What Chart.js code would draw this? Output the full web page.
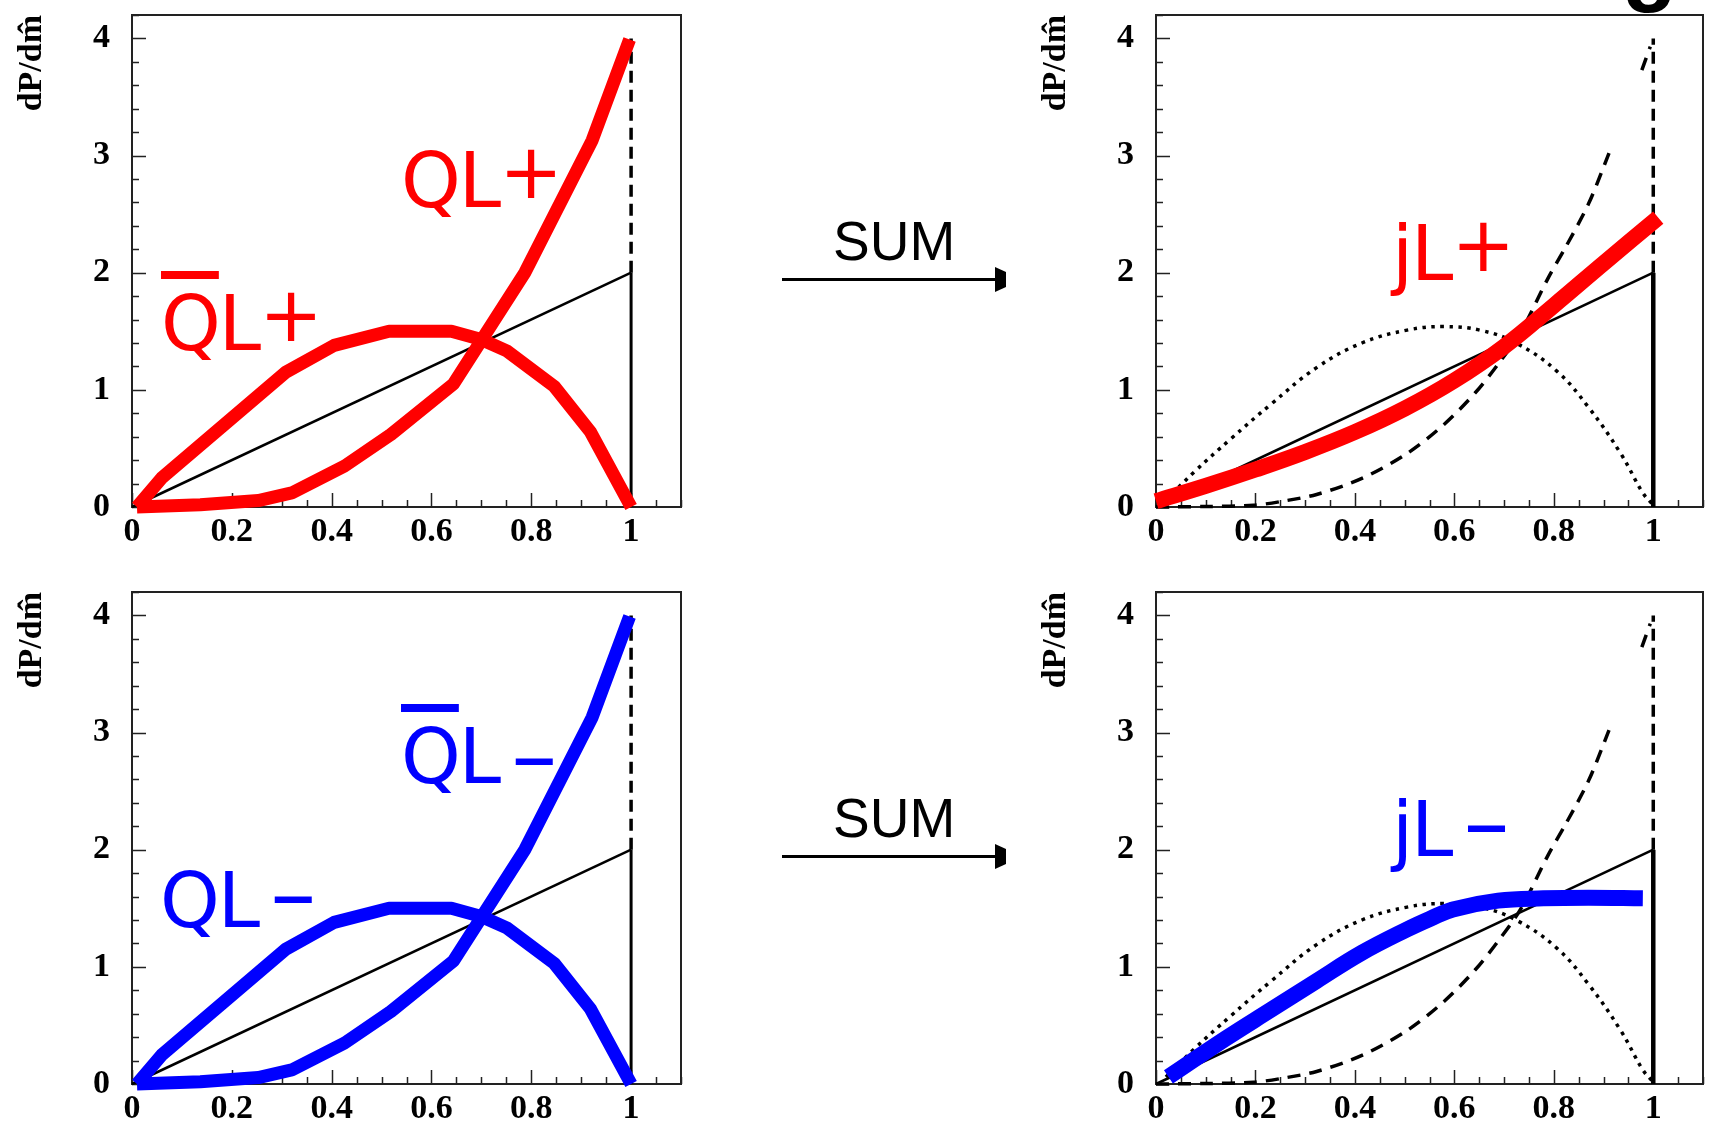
<!DOCTYPE html>
<html>
<head>
<meta charset="utf-8">
<script src="https://cdn.jsdelivr.net/npm/chart.js@4.4.1/dist/chart.umd.min.js"></script>
<style>
  html, body { margin: 0; padding: 0; background: #fff; }
  #page { position: relative; width: 1710px; height: 1131px; overflow: hidden; background: #fff; }
  canvas.panel { position: absolute; }
  .hand { position: absolute; font-family: 'DejaVu Sans', sans-serif; font-size: 76px; line-height: 1; white-space: nowrap; letter-spacing: -2px; }
  .hand .up { position: relative; top: -9px; }
  .hand .dash { position: relative; font-size: 92px; line-height: 0; margin-left: 12px; }
  .hand .bar { text-decoration: overline; text-decoration-thickness: 8px; }
  .red { color: #ff0000; }
  .blue { color: #0000ff; }
  .sum { position: absolute; font-family: 'Liberation Sans', Arial, sans-serif; font-size: 55px; line-height: 1; color: #000; }
  svg.arrow { position: absolute; left: 0; top: 0; }
  .cut { position: absolute; font-family: 'Liberation Sans', Arial, sans-serif; font-weight: bold; font-size: 90px; line-height: 1; color: #000; }
</style>
</head>
<body>
<div id="page">
  <canvas id="pPlusQuarks" class="panel" style="left:0px;top:0px" width="700" height="560"></canvas>
  <canvas id="pPlusJet" class="panel" style="left:1024px;top:0px" width="686" height="560"></canvas>
  <canvas id="pMinusQuarks" class="panel" style="left:0px;top:577px" width="700" height="560"></canvas>
  <canvas id="pMinusJet" class="panel" style="left:1024px;top:577px" width="686" height="560"></canvas>

  <div class="cut" style="left:1622px;top:-82px">g</div>

  <div class="sum" style="left:833px;top:214px">SUM</div>
  <div class="sum" style="left:833px;top:791px">SUM</div>
  <svg class="arrow" width="1710" height="1131">
    <line x1="782" y1="279.5" x2="997" y2="279.5" stroke="#000" stroke-width="3"/>
    <polygon points="995,267 1006,272 1006,287 995,292" fill="#000"/>
    <line x1="782" y1="856.5" x2="997" y2="856.5" stroke="#000" stroke-width="3"/>
    <polygon points="995,844 1006,849 1006,864 995,869" fill="#000"/>
  </svg>

  <div class="hand red" style="left:401px;top:143px">QL<span class="up">+</span></div>
  <div class="hand red" style="left:161px;top:286px"><span class="bar">Q</span>L<span class="up">+</span></div>
  <div class="hand blue" style="left:401px;top:719px"><span class="bar">Q</span>L<span class="dash" style="top:4px">–</span></div>
  <div class="hand blue" style="left:160px;top:863px">QL<span class="dash" style="top:-2px">–</span></div>
  <div class="hand red" style="left:1392px;top:216px">jL<span class="up">+</span></div>
  <div class="hand blue" style="left:1392px;top:792px">jL<span class="dash" style="top:-2px">–</span></div>
</div>

<script>
// ---- axis ticks ----
const xTickValues = [0, 0.2, 0.4, 0.6, 0.8, 1];
const xTickLabels = ['0', '0.2', '0.4', '0.6', '0.8', '1'];
const yTickValues = [0, 1, 2, 3, 4];
const yTickLabels = ['0', '1', '2', '3', '4'];
const yTitle = 'dP/dm\u0302';

// ---- flat reference distribution 2m and its edge at m = 1 ----
const flatX = [0, 1];
const flatY = [0, 2];
const edgeX = [1, 1];
const edgeLowY = [0, 2];
const edgeHighY = [2, 4];

// ---- left column: rising and humped quark shapes ----
const riseX = [0.01, 0.137, 0.253, 0.32, 0.426, 0.519, 0.644, 0.787, 0.922, 0.997];
const riseY = [0.0, 0.02, 0.055, 0.12, 0.35, 0.62, 1.05, 2.0, 3.13, 3.99];
const humpX = [0.01, 0.06, 0.308, 0.405, 0.515, 0.64, 0.70, 0.752, 0.846, 0.918, 1.0];
const humpY = [0.0, 0.25, 1.15, 1.38, 1.50, 1.50, 1.43, 1.33, 1.03, 0.645, 0.0];

// ---- right column: components (dotted hump, dashed rise) and the sums ----
const dotX = [0.02, 0.077, 0.15, 0.232, 0.323, 0.414, 0.505, 0.578, 0.651, 0.724, 0.806, 0.87, 0.934, 0.979, 0.997];
const dotY = [0.06, 0.30, 0.58, 0.88, 1.19, 1.40, 1.51, 1.54, 1.51, 1.40, 1.16, 0.85, 0.46, 0.12, 0.03];
const dashX = [0, 0.1, 0.196, 0.25, 0.323, 0.414, 0.505, 0.578, 0.642, 0.688, 0.733, 0.788, 0.824, 0.87, 0.911, 0.94, 0.977, 0.994];
const dashY = [0, 0.004, 0.015, 0.046, 0.107, 0.244, 0.457, 0.70, 0.975, 1.22, 1.49, 1.95, 2.22, 2.59, 3.02, null, 3.73, 3.93];
const jetPlusX = [0, 0.1, 0.2, 0.3, 0.4, 0.5, 0.6, 0.7, 0.8, 0.9, 1.01];
const jetPlusY = [0.05, 0.18, 0.32, 0.47, 0.64, 0.84, 1.08, 1.37, 1.72, 2.08, 2.47];
const jetMinusX = [0.025, 0.141, 0.232, 0.323, 0.414, 0.505, 0.551, 0.597, 0.688, 0.779, 0.87, 0.979];
const jetMinusY = [0.06, 0.39, 0.635, 0.88, 1.12, 1.32, 1.41, 1.49, 1.565, 1.585, 1.59, 1.585];

const RED = '#ff0000';
const BLUE = '#0000ff';

function pts(xs, ys) {
  return xs.map((x, i) => ({ x: x, y: ys[i] }));
}

// frame and inward ticks, placed with the chart's own scales
const frameTicks = {
  id: 'frameTicks',
  beforeDatasetsDraw(chart) {
    const { ctx, chartArea: a, scales: { x, y } } = chart;
    ctx.save();
    ctx.strokeStyle = '#222';
    ctx.lineWidth = 2;
    ctx.strokeRect(a.left, a.top, a.right - a.left, a.bottom - a.top);
    ctx.lineWidth = 1.5;
    ctx.beginPath();
    for (let i = 0; i <= 22; i++) {
      const px = Math.round(x.getPixelForValue(i * 0.05)) + 0.5;
      const len = i % 4 === 0 ? 14 : 7;
      ctx.moveTo(px, a.bottom);
      ctx.lineTo(px, a.bottom - len);
    }
    for (let j = 0; j <= 21; j++) {
      const py = Math.round(y.getPixelForValue(j * 0.2)) + 0.5;
      const len = j % 5 === 0 ? 14 : 7;
      ctx.moveTo(a.left, py);
      ctx.lineTo(a.left + len, py);
    }
    ctx.stroke();
    ctx.restore();
  }
};

const tickFont = { family: "'Liberation Serif', 'Times New Roman', serif", weight: 'bold', size: 34 };
const titleFont = { family: "'Liberation Serif', 'Times New Roman', serif", weight: 'bold', size: 34 };

function scales() {
  return {
    x: {
      type: 'linear', min: 0, max: 1.1,
      grid: { display: false, drawTicks: false },
      border: { display: false },
      afterBuildTicks: s => { s.ticks = xTickValues.map(v => ({ value: v })); },
      afterFit: s => { s.height = 53; s.paddingLeft = 0; s.paddingRight = 0; },
      ticks: { autoSkip: false, maxRotation: 0, minRotation: 0, padding: 5, color: '#000', font: tickFont,
               callback: (v, i) => xTickLabels[i] }
    },
    y: {
      type: 'linear', min: 0, max: 4.2,
      grid: { display: false, drawTicks: false },
      border: { display: false },
      afterBuildTicks: s => { s.ticks = yTickValues.map(v => ({ value: v })); },
      afterFit: s => { s.width = 132; s.paddingTop = 0; s.paddingBottom = 0; },
      ticks: { autoSkip: false, padding: 22, color: '#000', font: tickFont,
               callback: (v, i) => yTickLabels[i] },
      title: { display: true, text: yTitle, align: 'end', color: '#000', font: titleFont,
               padding: { top: 12, bottom: 0 } }
    }
  };
}

function line(data, color, width, extra) {
  return Object.assign({
    data: data, borderColor: color, borderWidth: width, pointRadius: 0,
    fill: false, tension: 0, borderCapStyle: 'butt', borderJoinStyle: 'round',
    spanGaps: false, clip: false
  }, extra || {});
}

function makeChart(id, datasets, rightPad) {
  return new Chart(document.getElementById(id), {
    type: 'line',
    data: { datasets: datasets },
    options: {
      responsive: false, animation: false, devicePixelRatio: 1, events: [],
      layout: { padding: { left: 0, top: 15, right: rightPad, bottom: 0 } },
      plugins: { legend: { display: false }, tooltip: { enabled: false } },
      scales: scales()
    },
    plugins: [frameTicks]
  });
}

function quarkPanel(id, color) {
  return makeChart(id, [
    line(pts(riseX, riseY), color, 13),
    line(pts(humpX, humpY), color, 13),
    line(pts(flatX, flatY), '#000', 2.5),
    line(pts(edgeX, edgeLowY), '#000', 3),
    line(pts(edgeX, edgeHighY), '#000', 3.5, { borderDash: [12, 7] })
  ], 19);
}

function jetPanel(id, color, xs, ys) {
  return makeChart(id, [
    line(pts(xs, ys), color, 16, { tension: 0.4 }),
    line(pts(flatX, flatY), '#000', 2.5),
    line(pts(edgeX, edgeLowY), '#000', 4.5),
    line(pts(edgeX, edgeHighY), '#000', 3.5, { borderDash: [12, 7] }),
    line(pts(dotX, dotY), '#000', 3.5, { tension: 0.4, borderDash: [3.5, 5.5] }),
    line(pts(dashX, dashY), '#000', 3.5, { tension: 0.3, borderDash: [13, 9] })
  ], 7);
}

quarkPanel('pPlusQuarks', RED);
quarkPanel('pMinusQuarks', BLUE);
jetPanel('pPlusJet', RED, jetPlusX, jetPlusY);
jetPanel('pMinusJet', BLUE, jetMinusX, jetMinusY);
</script>
</body>
</html>
